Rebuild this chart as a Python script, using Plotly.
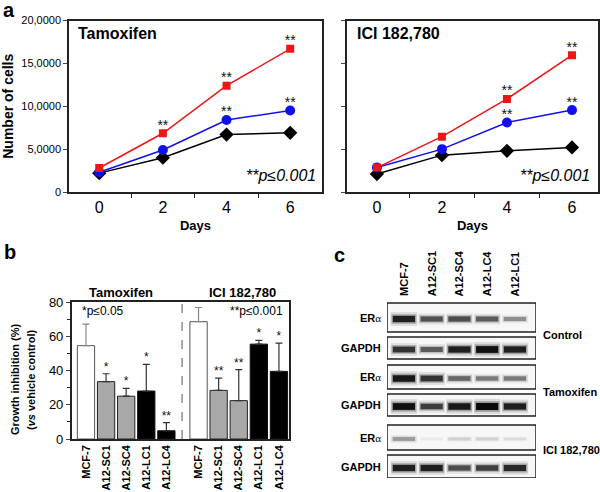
import plotly.graph_objects as go

# ---- panel a: number of cells over days ----
days = [0, 2, 4, 6]
tam_red = [2800, 6850, 12400, 16700]
tam_blue = [2300, 4900, 8400, 9500]
tam_black = [2200, 4000, 6700, 6900]
ici_red = [2850, 6450, 10850, 15950]
ici_blue = [2850, 5000, 8100, 9550]
ici_black = [2100, 4300, 4800, 5200]

tam_red_sig = ["", "**", "**", "**"]
tam_blue_sig = ["", "", "**", "**"]
ici_red_sig = ["", "", "**", "**"]
ici_blue_sig = ["", "", "**", "**"]

cell_ticks = [0, 5000, 10000, 15000, 20000]
cell_tick_text = ["0", "5,0000", "10,0000", "15,0000", "20,0000"]

# ---- panel b: growth inhibition (%) ----
cells = ["MCF-7", "A12-SC1", "A12-SC4", "A12-LC1", "A12-LC4"]
tam_inhib = [54.5, 33.5, 25.0, 28.0, 4.8]
tam_err = [12.6, 4.6, 4.6, 15.6, 4.8]
ici_inhib = [68.5, 28.4, 22.4, 55.4, 39.5]
ici_err = [8.3, 7.2, 18.1, 2.2, 16.5]
tam_stars = ["", "*", "*", "*", "**"]
ici_stars = ["", "**", "**", "*", "*"]

# ---- panel c: western blot band intensities (0 = none, 1 = darkest) ----
lanes = ["MCF-7", "A12-SC1", "A12-SC4", "A12-LC4", "A12-LC1"]
ctrl_er = [0.85, 0.6, 0.62, 0.55, 0.35]
ctrl_gapdh = [0.75, 0.55, 0.85, 0.95, 0.85]
tam_er = [0.9, 0.75, 0.5, 0.42, 0.42]
tam_gapdh = [0.95, 0.7, 0.9, 1.0, 0.85]
ici_er = [0.3, 0.04, 0.12, 0.12, 0.08]
ici_gapdh = [0.85, 0.85, 0.62, 0.68, 0.8]

W, H = 600, 492
FONT = "Liberation Sans, Arial, sans-serif"


def fx(x):
    return x / W


def fy(y):
    return 1 - y / H


fig = go.Figure()

# panel a lines
def add_series(vals, sig, color, symbol, size, xa, ya):
    fig.add_trace(go.Scatter(
        x=days, y=vals, mode="lines+markers",
        line=dict(color=color, width=1.5),
        marker=dict(symbol=symbol, size=size, color=color),
        xaxis=xa, yaxis=ya, showlegend=False, hoverinfo="skip"))
    fig.add_trace(go.Scatter(
        x=days, y=vals, mode="text", text=sig, textposition="top center",
        textfont=dict(size=14, color="#111"),
        xaxis=xa, yaxis=ya, showlegend=False, hoverinfo="skip"))


add_series(tam_black, ["", "", "", ""], "#000000", "diamond", 11, "x", "y")
add_series(tam_blue, tam_blue_sig, "#1010ee", "circle", 10, "x", "y")
add_series(tam_red, tam_red_sig, "#ee1515", "square", 8, "x", "y")
add_series(ici_black, ["", "", "", ""], "#000000", "diamond", 11, "x2", "y2")
add_series(ici_blue, ici_blue_sig, "#1010ee", "circle", 10, "x2", "y2")
add_series(ici_red, ici_red_sig, "#ee1515", "square", 8, "x2", "y2")

# panel b bars
fills = ["white", "#a8a8a8", "#a8a8a8", "black", "black"]
edges = ["#555555", "#222222", "#222222", "#111111", "#111111"]
err_cols = ["#888888", "#333333", "#333333", "#333333", "#333333"]
gap = 5.6
for grp, (vals, errs, stars) in enumerate([(tam_inhib, tam_err, tam_stars),
                                           (ici_inhib, ici_err, ici_stars)]):
    for i in range(len(cells)):
        xpos = i + grp * gap
        fig.add_trace(go.Bar(
            x=[xpos], y=[vals[i]], width=0.86,
            marker=dict(color=fills[i], line=dict(color=edges[i], width=1)),
            error_y=dict(type="data", symmetric=False, array=[errs[i]],
                         arrayminus=[0], color=err_cols[i], thickness=1.2, width=3.5),
            xaxis="x3", yaxis="y3", showlegend=False, hoverinfo="skip"))
        fig.add_trace(go.Scatter(
            x=[xpos], y=[vals[i] + errs[i]], mode="text", text=[stars[i]],
            textposition="top center", textfont=dict(size=12, color="#111"),
            xaxis="x3", yaxis="y3", showlegend=False, hoverinfo="skip"))

bar_x = [i + g * gap for g in range(2) for i in range(len(cells))]

# panel c blots: (top, bottom) pixel rows of each blot frame
blot_rows = [(303, 332), (337, 359), (365, 389), (394, 416), (425, 450), (455, 478)]
blot_data = [ctrl_er, ctrl_gapdh, tam_er, tam_gapdh, ici_er, ici_gapdh]
blot_names = ["ER", "GAPDH", "ER", "GAPDH", "ER", "GAPDH"]
lane_lo, lane_hi = -0.61, 4.76

# soft-edged bands: wide faint layers under a narrow dark core
band_layers = [(2.2, 0.48, 0.12), (1.5, 0.45, 0.3), (1.0, 0.4, 0.95)]
for (top, bot), vals in zip(blot_rows, blot_data):
    yc = (top + bot) / 2 + 1.5
    for i, v in enumerate(vals):
        w = 2.5 + 4.5 * v
        for wmul, half, alpha in band_layers:
            fig.add_trace(go.Scatter(
                x=[i - half, i + half], y=[yc, yc], mode="lines",
                line=dict(color="rgba(0,0,0,%.2f)" % (alpha * v), width=w * wmul),
                xaxis="x4", yaxis="y4", showlegend=False, hoverinfo="skip"))

shapes = []
for top, bot in blot_rows:
    shapes.append(dict(type="rect", xref="x4", yref="y4", x0=lane_lo, x1=lane_hi,
                       y0=top, y1=bot, line=dict(color="#222", width=1.5),
                       fillcolor="rgba(0,0,0,0.03)", layer="below"))
shapes.append(dict(type="line", xref="x3", yref="y3", x0=4.78, x1=4.78, y0=0, y1=80,
                   line=dict(color="#555", width=1, dash="dash")))

annotations = []
# panel letters
for txt, x, y in [("a", 1, 10), ("b", 2, 252), ("c", 332, 255)]:
    annotations.append(dict(text="<b>%s</b>" % txt, x=fx(x), y=fy(y), xref="paper", yref="paper",
                            xanchor="left", yanchor="middle", showarrow=False,
                            font=dict(size=20, color="black")))
# panel a titles and p-values
annotations += [
    dict(text="<b>Tamoxifen</b>", x=fx(76), y=fy(34), xref="paper", yref="paper",
         xanchor="left", yanchor="middle", showarrow=False, font=dict(size=16)),
    dict(text="<b>ICI 182,780</b>", x=fx(355), y=fy(34), xref="paper", yref="paper",
         xanchor="left", yanchor="middle", showarrow=False, font=dict(size=16)),
    dict(text="<i>**p≤0.001</i>", x=fx(318), y=fy(176), xref="paper", yref="paper",
         xanchor="right", yanchor="middle", showarrow=False, font=dict(size=16)),
    dict(text="<i>**p≤0.001</i>", x=fx(592), y=fy(176), xref="paper", yref="paper",
         xanchor="right", yanchor="middle", showarrow=False, font=dict(size=16)),
]
# panel b titles and p-values
annotations += [
    dict(text="<b>Tamoxifen</b>", x=fx(121), y=fy(292), xref="paper", yref="paper",
         xanchor="center", yanchor="middle", showarrow=False, font=dict(size=13)),
    dict(text="<b>ICI 182,780</b>", x=fx(242), y=fy(292), xref="paper", yref="paper",
         xanchor="center", yanchor="middle", showarrow=False, font=dict(size=13)),
    dict(text="*p≤0.05", x=fx(80), y=fy(311), xref="paper", yref="paper",
         xanchor="left", yanchor="middle", showarrow=False, font=dict(size=12)),
    dict(text="**p≤0.001", x=fx(285), y=fy(311), xref="paper", yref="paper",
         xanchor="right", yanchor="middle", showarrow=False, font=dict(size=12)),
    dict(text="<b>Growth inhibition (%)</b>", x=fx(15), y=fy(379), xref="paper", yref="paper",
         textangle=-90, xanchor="center", yanchor="middle", showarrow=False, font=dict(size=11)),
    dict(text="<b>(<i>vs</i> vehicle control)</b>", x=fx(31), y=fy(380), xref="paper", yref="paper",
         textangle=-90, xanchor="center", yanchor="middle", showarrow=False, font=dict(size=11)),
]
# panel c lane labels, row labels, side labels
for i, name in enumerate(lanes):
    annotations.append(dict(text="<b>%s</b>" % name, x=i, xref="x4", y=fy(298), yref="paper",
                            textangle=-90, xanchor="center", yanchor="bottom", showarrow=False,
                            font=dict(size=11)))
for (top, bot), name in zip(blot_rows, blot_names):
    label = "<b>%s</b>" % name
    if name == "ER":
        label = "<b>ER</b><span style='font-family:Liberation Serif'>α</span>"
    annotations.append(dict(text=label, x=fx(383), xref="paper", y=(top + bot) / 2, yref="y4",
                            xanchor="right", yanchor="middle", showarrow=False,
                            font=dict(size=11)))
for txt, y in [("Control", 335), ("Tamoxifen", 392), ("ICI 182,780", 450)]:
    annotations.append(dict(text="<b>%s</b>" % txt, x=fx(541), y=fy(y), xref="paper", yref="paper",
                            xanchor="left", yanchor="middle", showarrow=False, font=dict(size=11)))

# automargin off: margins are zero and every axis sits at a fixed pixel domain
frame = dict(showline=True, mirror=True, linecolor="#222", linewidth=1.5,
             showgrid=False, zeroline=False, automargin=False)

fig.update_layout(
    width=W, height=H, margin=dict(l=0, r=0, t=0, b=0, autoexpand=False),
    paper_bgcolor="white", plot_bgcolor="white",
    font=dict(family=FONT, color="black"),
    barmode="overlay",
    shapes=shapes, annotations=annotations,
    xaxis=dict(domain=[fx(69), fx(322)], range=[-0.95, 7], anchor="y",
               tickvals=days, ticks="", tickfont=dict(size=16),
               minor=dict(tickmode="array", tickvals=[-1, 1, 3, 5], ticks="outside",
                          ticklen=4, tickcolor="#222"),
               title=dict(text="<b>Days</b>", font=dict(size=13), standoff=6), **frame),
    yaxis=dict(domain=[fy(192), fy(20.5)], range=[0, 20000], anchor="x",
               tickvals=cell_ticks, ticktext=cell_tick_text, ticks="outside", ticklen=4,
               tickfont=dict(size=11),
               title=dict(text="<b>Number of cells</b>", font=dict(size=14), standoff=6), **frame),
    xaxis2=dict(domain=[fx(347), fx(598)], range=[-0.92, 6.8], anchor="y2",
                tickvals=days, ticks="", tickfont=dict(size=16),
                minor=dict(tickmode="array", tickvals=[1, 3, 5], ticks="outside",
                           ticklen=4, tickcolor="#222"),
                title=dict(text="<b>Days</b>", font=dict(size=13), standoff=6), **frame),
    yaxis2=dict(domain=[fy(192), fy(20.5)], range=[0, 20000], anchor="x2",
                tickvals=cell_ticks, ticks="outside", ticklen=4, showticklabels=False, **frame),
    xaxis3=dict(domain=[fx(71.7), fx(289)], range=[-0.71, 10.1], anchor="y3",
                tickvals=bar_x, ticktext=["<b>%s</b>" % c for c in cells] * 2,
                tickangle=-90, ticks="", tickfont=dict(size=11), **frame),
    yaxis3=dict(domain=[fy(439), fy(302)], range=[0, 80], anchor="x3",
                tickvals=[0, 20, 40, 60, 80], ticks="outside", ticklen=4,
                tickfont=dict(size=13),
                minor=dict(tickmode="array", tickvals=[10, 30, 50, 70], ticks="outside",
                           ticklen=3, tickcolor="#222"), **frame),
    xaxis4=dict(domain=[fx(387), fx(536)], range=[lane_lo, lane_hi], anchor="y4",
                visible=False, automargin=False),
    yaxis4=dict(domain=[fy(478), fy(302)], range=[478, 302], anchor="x4",
                visible=False, automargin=False),
)

# drop the default page margin so the figure sits at the window's top-left corner
fig.write_html("out.html", config={"displayModeBar": False},
               post_script="document.body.style.margin='0';")
